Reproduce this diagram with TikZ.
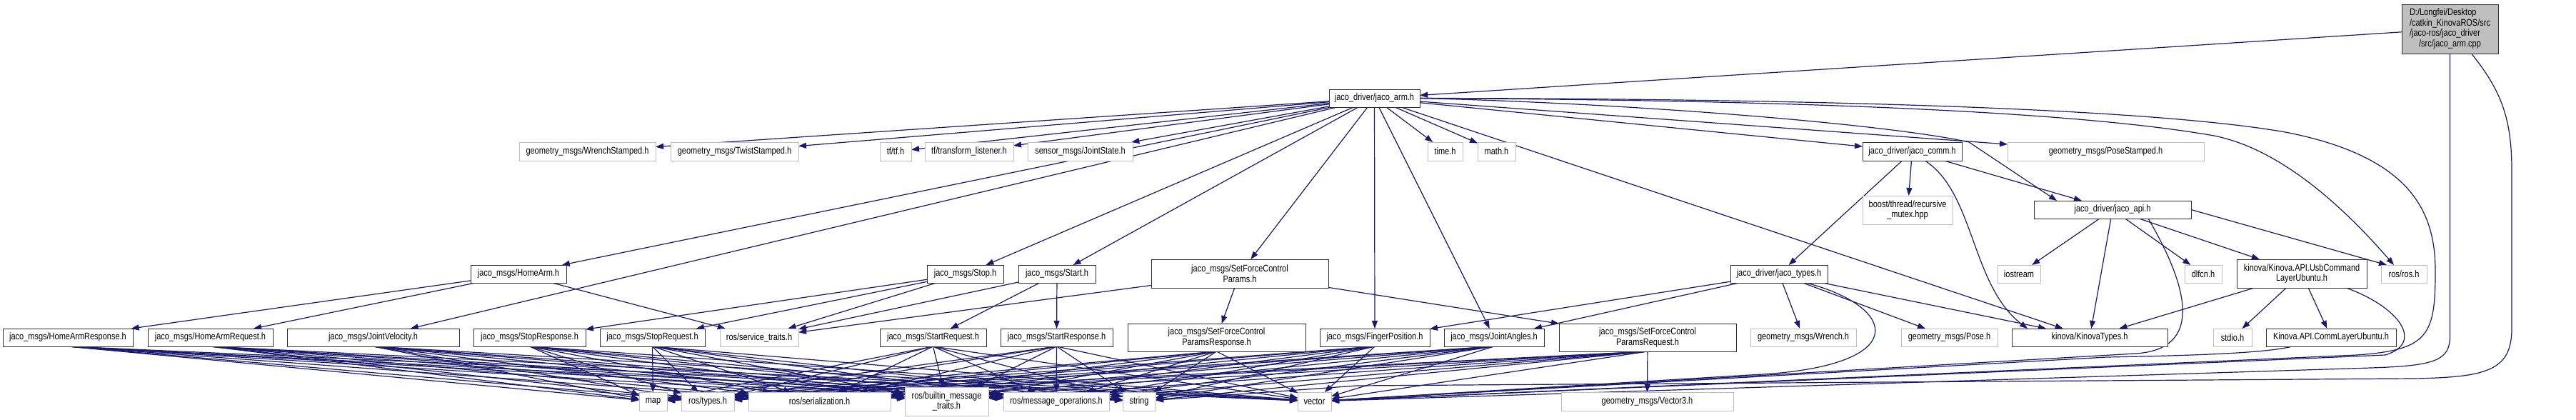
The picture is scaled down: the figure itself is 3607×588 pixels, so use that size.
\documentclass[tikz,border=0pt]{standalone}
\usepackage{fontspec}
\setmainfont{Liberation Sans}[FakeStretch=0.82]
\usetikzlibrary{arrows.meta}
\definecolor{mblue}{HTML}{191970}
\definecolor{gborder}{HTML}{BFBFBF}
\definecolor{dborder}{HTML}{303030}
\pgfdeclarelayer{back}
\pgfdeclarelayer{bg}
\pgfsetlayers{back,bg,main}
\newcommand\mknode[7]{\node[#1, minimum width={#4-#2}, minimum height={#5-#3}] (#6) at ({(#2+#4)/2},{(#3+#5)/2}) {#7};}
\tikzset{
  nbase/.style={rectangle, inner sep=0pt, outer sep=0pt, line width=0.9pt, fill=white, font=\fontsize{13.4}{14.7}\selectfont, align=center, text=black},
  doc/.style={nbase, draw=dborder},
  ext/.style={nbase, draw=gborder},
  rootn/.style={nbase, draw=dborder, fill=gborder},
  dep/.style={draw=mblue, line width=1.2pt, -{Triangle[length=11pt,width=8pt]}},
}
\begin{document}
\begin{tikzpicture}[x=1pt,y=-1pt]
\useasboundingbox (0,0) rectangle (3607,588);
\begin{pgfonlayer}{back}
\fill[white] (0,0) rectangle (3607,588);
\end{pgfonlayer}
% ---- nodes
\mknode{rootn}{3363}{6}{3498}{75}{root}{\begin{tabular}{@{}l@{}}D:/Longfei/Desktop\\/catkin\_KinovaROS/src\\/jaco-ros/jaco\_driver\\\multicolumn{1}{@{}c@{}}{/src/jaco\_arm.cpp}\end{tabular}}
\mknode{doc}{1861}{125}{1988}{150}{arm}{jaco\_driver/jaco\_arm.h}
\mknode{ext}{727}{199}{918}{225}{wrst}{geometry\_msgs/WrenchStamped.h}
\mknode{ext}{939}{199}{1118}{225}{twst}{geometry\_msgs/TwistStamped.h}
\mknode{ext}{1232}{199}{1276}{225}{tftf}{tf/tf.h}
\mknode{ext}{1295}{199}{1419}{225}{tfl}{tf/transform\_listener.h}
\mknode{ext}{1439}{199}{1586}{225}{jst}{sensor\_msgs/JointState.h}
\mknode{ext}{1999}{199}{2048}{225}{time}{time.h}
\mknode{ext}{2069}{199}{2122}{225}{math}{math.h}
\mknode{doc}{2608}{199}{2747}{225}{comm}{jaco\_driver/jaco\_comm.h}
\mknode{ext}{2811}{199}{3086}{225}{pst}{geometry\_msgs/PoseStamped.h}
\mknode{ext}{2608}{274}{2734}{314}{boost}{boost/thread/recursive\\\_mutex.hpp}
\mknode{doc}{2848}{281}{3068}{306}{api}{jaco\_driver/jaco\_api.h}
% row 3
\mknode{doc}{659}{371}{793}{396}{homearm}{jaco\_msgs/HomeArm.h}
\mknode{doc}{1298}{371}{1405}{396}{stop}{jaco\_msgs/Stop.h}
\mknode{doc}{1426}{371}{1534}{396}{start}{jaco\_msgs/Start.h}
\mknode{doc}{1612}{363}{1860}{403}{sfcp}{jaco\_msgs/SetForceControl\\Params.h}
\mknode{doc}{2423}{371}{2559}{396}{types}{jaco\_driver/jaco\_types.h}
\mknode{ext}{2797}{371}{2857}{396}{iostream}{iostream}
\mknode{ext}{3059}{371}{3111}{396}{dlfcn}{dlfcn.h}
\mknode{doc}{3132}{363}{3314}{403}{usb}{kinova/Kinova.API.UsbCommand\\LayerUbuntu.h}
\mknode{ext}{3334}{371}{3398}{396}{rosros}{ros/ros.h}
% row 4
\mknode{doc}{4}{460}{186}{485}{har}{jaco\_msgs/HomeArmResponse.h}
\mknode{doc}{207}{460}{382}{485}{hrq}{jaco\_msgs/HomeArmRequest.h}
\mknode{doc}{402}{460}{643}{485}{jv}{jaco\_msgs/JointVelocity.h}
\mknode{doc}{663}{460}{820}{485}{sres}{jaco\_msgs/StopResponse.h}
\mknode{doc}{840}{460}{987}{485}{sreq}{jaco\_msgs/StopRequest.h}
\mknode{ext}{1008}{460}{1118}{485}{svct}{ros/service\_traits.h}
\mknode{doc}{1232}{460}{1381}{485}{strq}{jaco\_msgs/StartRequest.h}
\mknode{doc}{1401}{460}{1558}{485}{strs}{jaco\_msgs/StartResponse.h}
\mknode{doc}{1579}{453}{1828}{492}{sfres}{jaco\_msgs/SetForceControl\\ParamsResponse.h}
\mknode{doc}{1848}{460}{2002}{485}{fp}{jaco\_msgs/FingerPosition.h}
\mknode{doc}{2022}{460}{2162}{485}{ja}{jaco\_msgs/JointAngles.h}
\mknode{doc}{2183}{453}{2431}{492}{sfreq}{jaco\_msgs/SetForceControl\\ParamsRequest.h}
\mknode{ext}{2451}{460}{2599}{485}{wrench}{geometry\_msgs/Wrench.h}
\mknode{ext}{2662}{460}{2797}{485}{pose}{geometry\_msgs/Pose.h}
\mknode{doc}{2817}{460}{3035}{485}{kt}{kinova/KinovaTypes.h}
\mknode{ext}{3099}{460}{3153}{485}{stdio}{stdio.h}
\mknode{doc}{3173}{460}{3355}{485}{cl}{Kinova.API.CommLayerUbuntu.h}
% row 5
\mknode{ext}{895}{549}{934}{575}{map}{map}
\mknode{ext}{954}{549}{1028}{575}{rtypes}{ros/types.h}
\mknode{ext}{1048}{549}{1247}{575}{rser}{ros/serialization.h}
\mknode{ext}{1267}{542}{1384}{582}{bmt}{ros/builtin\_message\\\_traits.h}
\mknode{ext}{1405}{549}{1553}{575}{mops}{ros/message\_operations.h}
\mknode{ext}{1572}{549}{1618}{575}{string}{string}
\mknode{ext}{1817}{549}{1864}{575}{vector}{vector}
\mknode{ext}{2186}{549}{2427}{575}{v3}{geometry\_msgs/Vector3.h}
% ---- edges
\begin{pgfonlayer}{bg}
% root
\draw[dep] (root) -- (arm);
\draw[dep] (root.south) -- (3430.5,470) .. controls (3430.5,505) and (3410,512) .. (3320,515) -- (vector);
\draw[dep] ([xshift=30pt]root.south) .. controls (3505,130) and (3517,170) .. (3517,240) -- (3517,460) .. controls (3517,520) and (3480,528) .. (3380,530) -- (1900,540) -- (string);
% jaco_arm.h
\foreach \t in {wrst,twst,tftf,tfl,jst,time,math,comm,pst,kt,homearm,jv,stop,start,sfcp,fp,ja}
  \draw[dep] (arm) -- (\t);
\draw[dep] (arm.east) .. controls (2300,145) and (2650,175) .. (2757,199) -- ([xshift=32pt]api.north west);
\draw[dep] (arm.east) .. controls (2500,140) and (2900,155) .. (3100,190) .. controls (3200,210) and (3290,300) .. ([xshift=18pt]rosros.north west);
\draw[dep] (arm.east) .. controls (2500,138) and (3000,150) .. (3200,185) .. controls (3380,220) and (3410,300) .. (3410,380) .. controls (3410,470) and (3400,490) .. (3300,497) -- (vector);
% jaco_comm.h
\foreach \t in {types,boost,api}
  \draw[dep] (comm) -- (\t);
\draw[dep] ([xshift=18pt]comm.south) .. controls (2765,270) and (2760,400) .. ([xshift=22pt]kt.north west);
% jaco_api.h
\foreach \t in {iostream,kt,dlfcn,usb}
  \draw[dep] (api) -- (\t);
\draw[dep] (api.east) -- ([xshift=8pt]rosros.north west);
\draw[dep] ([xshift=50pt]api.south) .. controls (3075,420) and (3075,490) .. (2990,495) -- (vector);
% usb
\foreach \t in {kt,stdio,cl}
  \draw[dep] (usb) -- (\t);
\draw[dep] ([xshift=62pt]usb.south) .. controls (3360,430) and (3395,480) .. (3340,497) -- (vector);
% comm layer
\draw[dep] ([xshift=-54pt]cl.south) .. controls (3180,492) and (3120,497) .. (2950,500) -- (vector);
% jaco_types.h
\foreach \t in {fp,ja,wrench,pose,kt}
  \draw[dep] (types) -- (\t);
\draw[dep] ([xshift=-30pt]types.south east) .. controls (2660,430) and (2680,515) .. (2450,525) -- (vector);
% services
\foreach \t in {har,hrq,svct} \draw[dep] (homearm) -- (\t);
\foreach \t in {sres,sreq,svct} \draw[dep] (stop) -- (\t);
\foreach \t in {strq,strs,svct} \draw[dep] (start) -- (\t);
\foreach \t in {sfres,sfreq,svct} \draw[dep] (sfcp) -- (\t);
% messages
\foreach \s in {har,hrq,jv,sres,sreq,strq,strs,sfres,fp,ja,sfreq}
  \foreach \t in {map,rtypes,rser,bmt,mops,string,vector}
    \draw[dep] (\s.south) -- (\t);
\draw[dep] (sfreq) -- (v3);
\end{pgfonlayer}
\end{tikzpicture}
\end{document}
